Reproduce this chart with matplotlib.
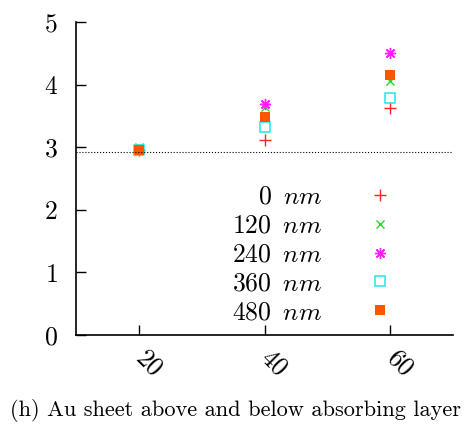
import matplotlib
matplotlib.use("Agg")
import matplotlib.pyplot as plt
from matplotlib.transforms import ScaledTranslation

plt.rcParams["font.family"] = "serif"
plt.rcParams["font.serif"] = ["cmr10", "DejaVu Serif"]
plt.rcParams["mathtext.fontset"] = "cm"
plt.rcParams["axes.formatter.use_mathtext"] = True

# thickness of the Au sheets, and the values
x_vals = [20, 40, 60]
series_labels = ["0", "120", "240", "360", "480"]
y_0nm = [2.96, 3.12, 3.62]
y_120nm = [3.00, 3.65, 4.05]
y_240nm = [2.96, 3.69, 4.50]
y_360nm = [2.96, 3.32, 3.79]
y_480nm = [2.96, 3.48, 4.15]
reference_level = 2.93

series = [y_0nm, y_120nm, y_240nm, y_360nm, y_480nm]
styles = [
    dict(marker="+", color="#ff2020", markersize=8, markeredgewidth=1.0),
    dict(marker="x", color="#20dd20", markersize=6, markeredgewidth=1.0),
    dict(marker=(8, 2, 0), color="#ff20ff", markersize=8, markeredgewidth=1.0),
    dict(marker="s", color="#20e8e8", markerfacecolor="none", markersize=6.5,
         markeredgewidth=1.1),
    dict(marker="s", color="#ff5500", markersize=6.5, markeredgewidth=0),
]

fig = plt.figure(figsize=(4.70, 4.26), dpi=100)
ax = fig.add_axes([76 / 470, 1 - 335 / 426, 377 / 470, 313 / 426])

for label, ys, st in zip(series_labels, series, styles):
    ax.plot(x_vals, ys, linestyle="none", label=rf"{label} $\,nm$", **st)

ax.axhline(reference_level, color="black", linestyle=":", linewidth=0.8)

ax.set_xlim(10, 70)
ax.set_ylim(0, 5)
ax.set_xticks(x_vals)
ax.set_yticks(range(0, 6))
ax.tick_params(direction="in", length=7, width=1.0, labelsize=18.5)
ax.tick_params(axis="x", labelrotation=-45, pad=7)
ax.tick_params(axis="y", pad=13)
shift = ScaledTranslation(10 / 100, 0, fig.dpi_scale_trans)
for lab in ax.get_xticklabels():
    lab.set_ha("center")
    lab.set_va("top")
    lab.set_transform(lab.get_transform() + shift)
for side in ["top", "right"]:
    ax.spines[side].set_visible(False)
for side in ["left", "bottom"]:
    ax.spines[side].set_linewidth(1.2)

ax.legend(loc="upper right", bbox_to_anchor=(0.875, 0.52), frameon=False,
          markerfirst=False, fontsize=18.5, handlelength=1.0, handletextpad=1.75,
          labelspacing=0.2, borderpad=0)

fig.text(0.5, 1 - 411 / 426, "(h) Au sheet above and below absorbing layer",
         ha="center", va="center", fontsize=16.1)

fig.savefig("out.png", dpi=100)
